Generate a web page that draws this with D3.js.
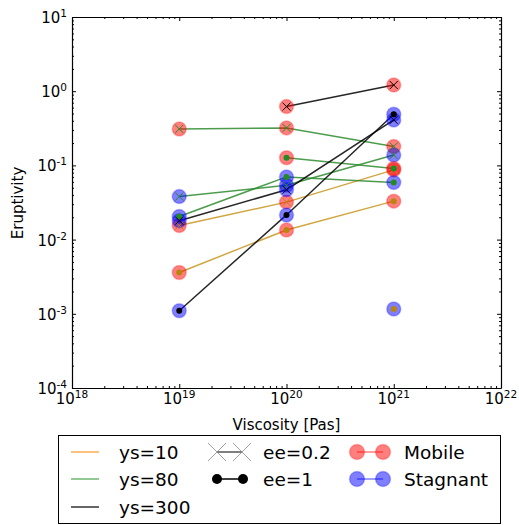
<!DOCTYPE html>
<html>
<head>
<meta charset="utf-8">
<script src="https://cdn.jsdelivr.net/npm/d3@7/dist/d3.min.js"></script>
<style>
    body { margin: 0; background: #fff; }
    svg { display: block; font-family: "DejaVu Sans", sans-serif; }
    .axis path, .axis line { stroke: #000; }
</style>
</head>
<body>
<div id="chart"></div>
<script>
// ===== Data =====
const viscosity = [1e19, 1e20, 1e21];
const xTickValues = [1e18, 1e19, 1e20, 1e21, 1e22];
const yTickValues = [1e-4, 1e-3, 1e-2, 1e-1, 1e0, 1e1];

// one entry per run series: yield stress, ee, eruptivity per viscosity, regime per point
const seriesYs = [10, 10, 10, 80, 80, 80, 80, 300, 300, 300];
const seriesEe = [0.2, 1, 1, 0.2, 0.2, 1, 1, 0.2, 0.2, 1];
const seriesValues = [
    [0.0155, 0.032, 0.087],
    [0.0036, 0.0135, 0.033],
    [null, null, 0.00116],
    [0.31, 0.32, 0.18],
    [0.038, 0.054, 0.138],
    [0.0205, 0.070, 0.059],
    [null, 0.127, 0.091],
    [null, 0.62, 1.21],
    [0.018, 0.047, 0.41],
    [0.0011, 0.0215, 0.49]
];
const seriesRegime = [
    ['M', 'M', 'M'],
    ['M', 'M', 'M'],
    [null, null, 'S'],
    ['M', 'M', 'M'],
    ['S', 'S', 'S'],
    ['S', 'S', 'S'],
    [null, 'M', 'M'],
    [null, 'M', 'M'],
    ['S', 'S', 'S'],
    ['S', 'S', 'S']
];

const ysLegend = ['ys=10', 'ys=80', 'ys=300'];
const eeLegend = ['ee=0.2', 'ee=1'];
const regimeLegend = ['Mobile', 'Stagnant'];

// ===== Styles =====
const lineColor = { 10: '#c8961e', 80: '#2e8b2e', 300: '#000000' };
const markColor = { 10: '#b8860b', 80: '#228b22', 300: '#000000' };
const legendLineColor = { 10: '#ffaa55', 80: '#6fb86f', 300: '#333333' };
const regimeColor = { M: '#ff0000', S: '#0000ff' };

const W = 519, H = 525;
const plot = { left: 72, right: 501, top: 17, bottom: 388 };

const svg = d3.select('#chart').append('svg')
    .attr('width', W)
    .attr('height', H);

const x = d3.scaleLog().domain([1e18, 1e22]).range([plot.left, plot.right]);
const y = d3.scaleLog().domain([1e-4, 1e1]).range([plot.bottom, plot.top]);

// minor ticks
function minorTicks(lo, hi) {
    const out = [];
    for (let e = lo; e < hi; e++) {
        for (let m = 2; m <= 9; m++) out.push(m * Math.pow(10, e));
    }
    return out;
}
const xMinor = minorTicks(18, 22);
const yMinor = minorTicks(-4, 1);

function addAxis(axisFn, scale, transform, major, minor) {
    svg.append('g')
        .attr('class', 'axis')
        .attr('transform', transform)
        .call(axisFn(scale).tickValues(minor).tickSize(-2).tickSizeOuter(0).tickFormat(''))
        .select('.domain').remove();
    svg.append('g')
        .attr('class', 'axis')
        .attr('transform', transform)
        .call(axisFn(scale).tickValues(major).tickSize(-4).tickSizeOuter(0).tickFormat(''));
}

addAxis(d3.axisBottom, x, `translate(0,${plot.bottom})`, xTickValues, xMinor);
addAxis(d3.axisTop, x, `translate(0,${plot.top})`, xTickValues, xMinor);
addAxis(d3.axisLeft, y, `translate(${plot.left},0)`, yTickValues, yMinor);
addAxis(d3.axisRight, y, `translate(${plot.right},0)`, yTickValues, yMinor);

svg.selectAll('.axis .domain').attr('stroke-width', 1.2);

// tick labels as 10^n
function powLabel(sel, v) {
    const e = Math.round(Math.log10(v));
    sel.append('tspan').text('10');
    sel.append('tspan').attr('dy', -6).attr('font-size', 10.5).text(e < 0 ? '-' + (-e) : e);
}

xTickValues.forEach(v => {
    const t = svg.append('text')
        .attr('x', x(v))
        .attr('y', 404)
        .attr('text-anchor', 'middle')
        .attr('font-size', 15);
    powLabel(t, v);
});

yTickValues.forEach(v => {
    const t = svg.append('text')
        .attr('x', 67)
        .attr('y', y(v) + 6)
        .attr('text-anchor', 'end')
        .attr('font-size', 15);
    powLabel(t, v);
});

// axis labels
svg.append('text')
    .attr('x', (plot.left + plot.right) / 2)
    .attr('y', 430)
    .attr('text-anchor', 'middle')
    .attr('font-size', 15)
    .text('Viscosity [Pas]');

svg.append('text')
    .attr('transform', 'rotate(-90)')
    .attr('x', -203)
    .attr('y', 23)
    .attr('text-anchor', 'middle')
    .attr('font-size', 15)
    .text('Eruptivity');

// ===== Series =====
const series = seriesValues.map((vals, i) => ({
    ys: seriesYs[i],
    ee: seriesEe[i],
    points: vals.map((v, j) => ({ x: viscosity[j], y: v, regime: seriesRegime[i][j] }))
        .filter(p => p.y !== null)
}));

const line = d3.line().x(d => x(d.x)).y(d => y(d.y));
const gPlot = svg.append('g');

series.forEach(s => {
    gPlot.append('path')
        .attr('d', line(s.points))
        .attr('fill', 'none')
        .attr('stroke', lineColor[s.ys])
        .attr('stroke-opacity', 0.85)
        .attr('stroke-width', 1.5);
});

series.forEach(s => {
    s.points.forEach(p => {
        gPlot.append('circle')
            .attr('cx', x(p.x))
            .attr('cy', y(p.y))
            .attr('r', 7)
            .attr('fill', regimeColor[p.regime])
            .attr('fill-opacity', 0.5)
            .attr('stroke', regimeColor[p.regime])
            .attr('stroke-opacity', 0.25)
            .attr('stroke-width', 1.5);
    });
});

function drawCross(g, cx, cy, h, color, width) {
    g.append('path')
        .attr('d', `M${cx - h},${cy - h}L${cx + h},${cy + h}M${cx - h},${cy + h}L${cx + h},${cy - h}`)
        .attr('stroke', color)
        .attr('stroke-width', width)
        .attr('fill', 'none');
}

series.forEach(s => {
    s.points.forEach(p => {
        if (s.ee === 1) {
            gPlot.append('circle')
                .attr('cx', x(p.x))
                .attr('cy', y(p.y))
                .attr('r', 3)
                .attr('fill', markColor[s.ys]);
        } else {
            drawCross(gPlot, x(p.x), y(p.y), 4, markColor[s.ys], 1);
        }
    });
});

// ===== Legend =====
const lg = svg.append('g').attr('font-size', 18.5);
lg.append('rect')
    .attr('x', 58.5).attr('y', 435.5)
    .attr('width', 442).attr('height', 88)
    .attr('fill', '#fff')
    .attr('stroke', '#000')
    .attr('stroke-width', 1);

const rowY = [452, 479, 507];

ysLegend.forEach((label, i) => {
    const ys = [10, 80, 300][i];
    lg.append('line')
        .attr('x1', 71).attr('x2', 99)
        .attr('y1', rowY[i]).attr('y2', rowY[i])
        .attr('stroke', legendLineColor[ys])
        .attr('stroke-width', 1.5);
    lg.append('text').attr('x', 119).attr('y', rowY[i] + 7).text(label);
});

eeLegend.forEach((label, i) => {
    const cy = rowY[i];
    if (i === 0) {
        lg.append('line')
            .attr('x1', 217).attr('x2', 242).attr('y1', cy).attr('y2', cy)
            .attr('stroke', '#555').attr('stroke-width', 1.5);
        drawCross(lg, 217, cy, 9, '#888', 0.8);
        drawCross(lg, 242, cy, 9, '#888', 0.8);
    } else {
        lg.append('line')
            .attr('x1', 217).attr('x2', 243).attr('y1', cy).attr('y2', cy)
            .attr('stroke', '#000').attr('stroke-width', 1.5);
        [217, 243].forEach(cx => lg.append('circle')
            .attr('cx', cx).attr('cy', cy).attr('r', 5).attr('fill', '#000'));
    }
    lg.append('text').attr('x', 263).attr('y', cy + 7).text(label);
});

regimeLegend.forEach((label, i) => {
    const cy = rowY[i];
    const c = regimeColor[i === 0 ? 'M' : 'S'];
    [357, 383].forEach(cx => lg.append('circle')
        .attr('cx', cx).attr('cy', cy).attr('r', 7.5)
        .attr('fill', c).attr('fill-opacity', 0.5)
        .attr('stroke', c).attr('stroke-opacity', 0.25).attr('stroke-width', 1.5));
    lg.append('line')
        .attr('x1', 357).attr('x2', 383).attr('y1', cy).attr('y2', cy)
        .attr('stroke', c).attr('stroke-opacity', 0.5).attr('stroke-width', 1.5);
    lg.append('text').attr('x', 404).attr('y', cy + 7).text(label);
});
</script>
</body>
</html>
